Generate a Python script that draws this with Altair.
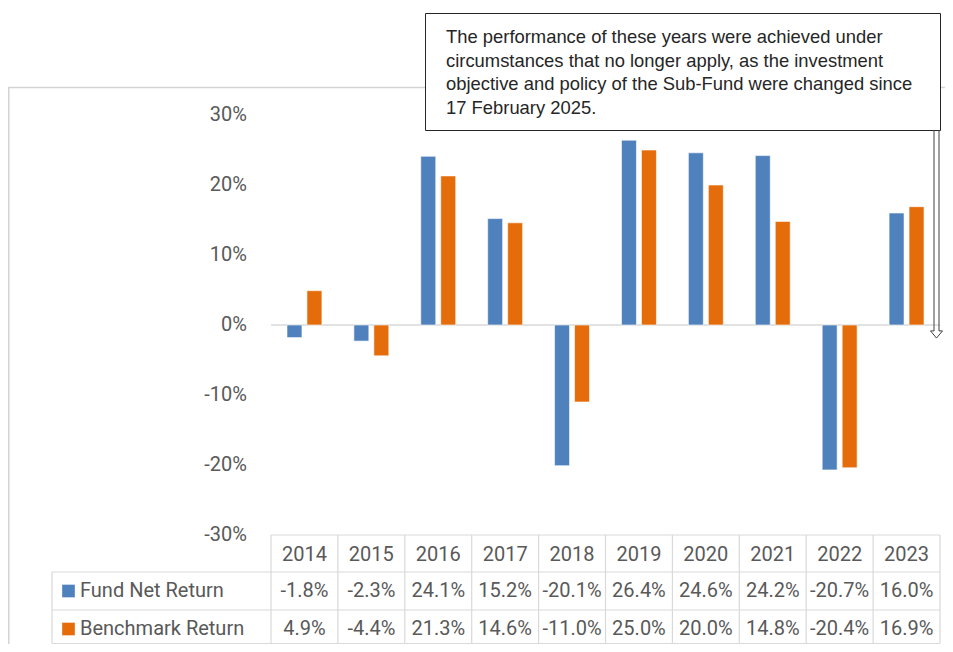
import altair as alt
import pandas as pd

# ---------------- data ----------------
years = ["2014", "2015", "2016", "2017", "2018", "2019", "2020", "2021", "2022", "2023"]
fund_net_return = [-1.8, -2.3, 24.1, 15.2, -20.1, 26.4, 24.6, 24.2, -20.7, 16.0]
benchmark_return = [4.9, -4.4, 21.3, 14.6, -11.0, 25.0, 20.0, 14.8, -20.4, 16.9]
series_names = ["Fund Net Return", "Benchmark Return"]
series_colors = ["#4F81BD", "#E46C0A"]
y_ticks = [-30, -20, -10, 0, 10, 20, 30]
note_lines = [
    "The performance of these years were achieved under",
    "circumstances that no longer apply, as the investment",
    "objective and policy of the Sub-Fund were changed since",
    "17 February 2025.",
]

# ---------------- layout (pixels, plot coords) ----------------
W, H = 937, 636
X0, X1 = 263, 932            # table / category span
Y_TOP, Y_BOT = 107, 527      # 30% .. -30%
ROW_H = [527, 564, 602, 635.5]  # table horizontal lines
LABEL_X0 = 44
GRID = "#d9d9d9"
TXT = "#595959"
FONT = "Roboto"
FS = 20

df = pd.DataFrame({
    "year": years * 2,
    "series": [series_names[0]] * len(years) + [series_names[1]] * len(years),
    "value": fund_net_return + benchmark_return,
})
df["label"] = df["value"].map(lambda v: f"{v:.1f}%")
ticks_df = pd.DataFrame({"tick": y_ticks, "label": [f"{t}%" for t in y_ticks]})
legend_df = pd.DataFrame({"series": series_names})
one = pd.DataFrame({"a": [0]})

x_scale = alt.Scale(domain=years, range=[X0, X1], paddingInner=0, paddingOuter=0)
y_scale = alt.Scale(domain=[-30, 30], range=[Y_BOT, Y_TOP], nice=False, zero=False)
color_scale = alt.Scale(domain=series_names, range=series_colors)


def hline(y, x1, x2, color=GRID, width=1.2):
    return alt.Chart(one).mark_rule(color=color, strokeWidth=width).encode(
        x=alt.value(x1), x2=alt.value(x2), y=alt.value(y))


def vline(x, y1, y2, color=GRID, width=1.2):
    return alt.Chart(one).mark_rule(color=color, strokeWidth=width).encode(
        x=alt.value(x), y=alt.value(y1), y2=alt.value(y2))


# outer chart border
border = [hline(79.5, 0, W, "#d4d4d4", 1.5), vline(0.75, 79, H, "#d4d4d4", 1.5)]

bars = alt.Chart(df).mark_bar(stroke="white", strokeWidth=0.6).encode(
    x=alt.X("year:N", scale=x_scale, axis=None),
    xOffset=alt.XOffset("series:N", sort=series_names,
                        scale=alt.Scale(domain=series_names, paddingInner=0.25, paddingOuter=0.8)),
    y=alt.Y("value:Q", scale=y_scale, axis=None),
    color=alt.Color("series:N", scale=color_scale, legend=None),
)

zero_line = alt.Chart(ticks_df).transform_filter("datum.tick == 0").mark_rule(
    color=GRID, strokeWidth=1.5).encode(
    y=alt.Y("tick:Q", scale=y_scale, axis=None), x=alt.value(X0), x2=alt.value(X1))

y_labels = alt.Chart(ticks_df).mark_text(
    align="right", baseline="middle", font=FONT, fontSize=FS, color=TXT).encode(
    y=alt.Y("tick:Q", scale=y_scale, axis=None), x=alt.value(239), text="label:N")

# table grid
grid_h = [hline(ROW_H[0], X0, X1)] + [hline(y, LABEL_X0, X1) for y in ROW_H[1:]]
grid_v_label = vline(LABEL_X0, ROW_H[1], ROW_H[3])
grid_v = alt.Chart(df).transform_filter(alt.datum.series == series_names[0]).mark_rule(
    color=GRID, strokeWidth=1.2).encode(
    x=alt.X("year:N", scale=x_scale, axis=None, bandPosition=0),
    y=alt.value(ROW_H[0]), y2=alt.value(ROW_H[3]))
grid_v_end = alt.Chart(df).transform_filter(
    (alt.datum.series == series_names[0]) & (alt.datum.year == years[-1])).mark_rule(
    color=GRID, strokeWidth=1.2).encode(
    x=alt.X("year:N", scale=x_scale, axis=None, bandPosition=1),
    y=alt.value(ROW_H[0]), y2=alt.value(ROW_H[3]))

year_text = alt.Chart(df).transform_filter(alt.datum.series == series_names[0]).mark_text(
    font=FONT, fontSize=FS, color=TXT, baseline="middle").encode(
    x=alt.X("year:N", scale=x_scale, axis=None), y=alt.value((ROW_H[0] + ROW_H[1]) / 2 + 1),
    text="year:N")

row_centers = [583, 621]
row_texts = []
for i, s in enumerate(series_names):
    yc = row_centers[i]
    row_texts.append(alt.Chart(df).transform_filter(alt.datum.series == s).mark_text(
        font=FONT, fontSize=FS, color=TXT, baseline="middle").encode(
        x=alt.X("year:N", scale=x_scale, axis=None), y=alt.value(yc), text="label:N"))
    row_texts.append(alt.Chart(legend_df).transform_filter(alt.datum.series == s).mark_square(
        size=160, opacity=1).encode(
        x=alt.value(60.5), y=alt.value(yc),
        color=alt.Color("series:N", scale=color_scale, legend=None)))
    row_texts.append(alt.Chart(legend_df).transform_filter(alt.datum.series == s).mark_text(
        font=FONT, fontSize=FS, color=TXT, align="left", baseline="middle").encode(
        x=alt.value(72), y=alt.value(yc), text="series:N"))

# annotation box with arrow
note_box = alt.Chart(one).mark_rect(fill="white", stroke="#262626", strokeWidth=1).encode(
    x=alt.value(417.5), x2=alt.value(932.5), y=alt.value(5.5), y2=alt.value(122.5))
note_text = alt.Chart(one).mark_text(
    align="left", baseline="alphabetic", font="Liberation Sans", fontSize=18.4,
    lineHeight=23.7, color="#262626").encode(
    x=alt.value(438), y=alt.value(35), text=alt.value(note_lines))
shaft = [vline(926, 122, 323, "#404040", 1), vline(931, 122, 323, "#404040", 1)]
head = alt.Chart(one).mark_point(
    shape="M -0.42 -0.6 L -1 -0.6 L 0 0.6 L 1 -0.6 L 0.42 -0.6",
    size=144, filled=False, stroke="#404040", strokeWidth=1, opacity=1).encode(
    x=alt.value(928.5), y=alt.value(326.5))

layers = (border + [zero_line, bars, y_labels] + grid_h + [grid_v_label, grid_v, grid_v_end, year_text]
          + row_texts + [note_box, note_text] + shaft + [head])

chart = alt.layer(*layers).properties(
    width=W, height=H, padding=0, autosize=alt.AutoSizeParams(type="none"),
    background="white",
).configure_view(stroke=None)

chart.save("out.html", embed_options={"renderer": "svg", "actions": False})
